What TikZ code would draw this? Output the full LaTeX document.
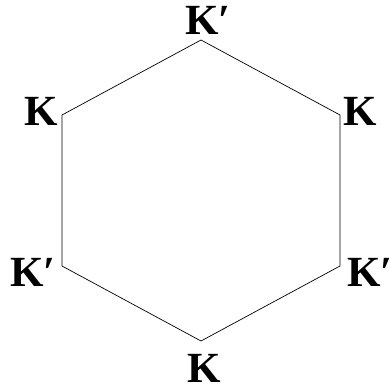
\documentclass[tikz,border=0pt]{standalone}
\usepackage{fontspec}
\setmainfont{Liberation Serif}
\usetikzlibrary{calc}
\tikzset{
  latura/.style   = {draw, line width=0.7pt, line join=miter},
  punct/.style    = {font=\bfseries\fontsize{43}{43}\selectfont, inner sep=0pt}
}
\begin{document}
\begin{tikzpicture}[x=1pt, y=-1pt]
        \useasboundingbox (0,0) rectangle (391,387);
        % varfurile hexagonului
        \coordinate (sus)   at (201,40);
        \coordinate (dsus)  at (340,115);
        \coordinate (djos)  at (340,266);
        \coordinate (jos)   at (201,341);
        \coordinate (sjos)  at (62,266);
        \coordinate (ssus)  at (62,115);

        \draw[latura] (sus) -- (dsus) -- (djos) -- (jos) -- (sjos) -- (ssus) -- cycle;

        % etichetele
        \node[punct, anchor=base west] (ksus)  at ($(sus)+(-16,-5)$) {K′};
        \node[punct, anchor=base east] (kssus) at ($(ssus)+(-4,11)$) {K};
        \node[punct, anchor=base west] (kdsus) at ($(dsus)+(3,11)$) {K};
        \node[punct, anchor=base west] (ksjos) at ($(sjos)+(-52,21)$) {K′};
        \node[punct, anchor=base west] (kdjos) at ($(djos)+(7,21)$) {K′};
        \node[punct, anchor=base west] (kjos)  at ($(jos)+(-14,41)$) {K};
    \end{tikzpicture}
\end{document}
